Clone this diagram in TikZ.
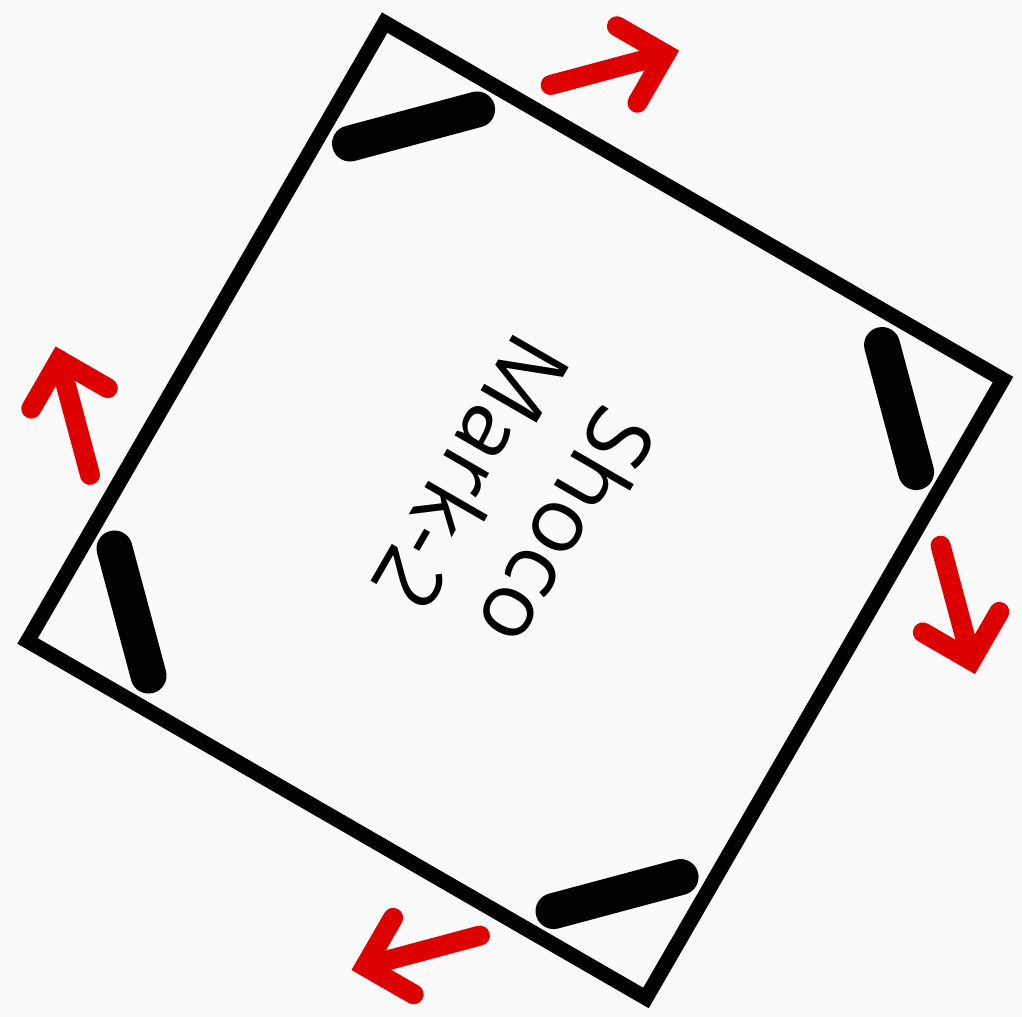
\documentclass[tikz,border=0pt]{standalone}
\usepackage{fontspec}
\newfontfamily\labelfont{Open Sans}
\definecolor{arrowred}{RGB}{221,0,0}
\definecolor{paper}{RGB}{250,250,250}

\begin{document}
\begin{tikzpicture}[
    body/.style={draw=black, line width=1.5mm, line join=miter},
    wheel/.style={draw=black, line width=3.6mm, line cap=round},
    motion/.style={draw=arrowred, line width=2mm, line cap=round, line join=miter},
    robotname/.style={font=\labelfont\fontsize{25.8}{31.6}\selectfont, align=center, inner sep=0pt},
]
\fill[paper] (0,0) rectangle (10.22,10.17);
\useasboundingbox (0,0) rectangle (10.22,10.17);
\begin{scope}[shift={(5.153,5.067)}, rotate=-30]
\draw[body] (-3.57,-3.57) rectangle (3.57,3.57);
% one wheel and its drive arrow per corner
\foreach \a in {0,-90,-180,-270} {
  \begin{scope}[rotate=\a]
    \draw[wheel] (-3.265,2.35) -- (-2.335,3.28);
    \coordinate (tail) at (-1.82,3.86);
    \coordinate (tip) at (-0.98,4.70);
    \draw[motion] (tail) -- (tip);
    \draw[motion] (tip) ++(180:0.56) -- (tip) -- ++(270:0.56);
  \end{scope}
}
\node[robotname, rotate=-120] (label) at (0,0.1) {Shoco\\Mark-2};
\end{scope}
\end{tikzpicture}
\end{document}
